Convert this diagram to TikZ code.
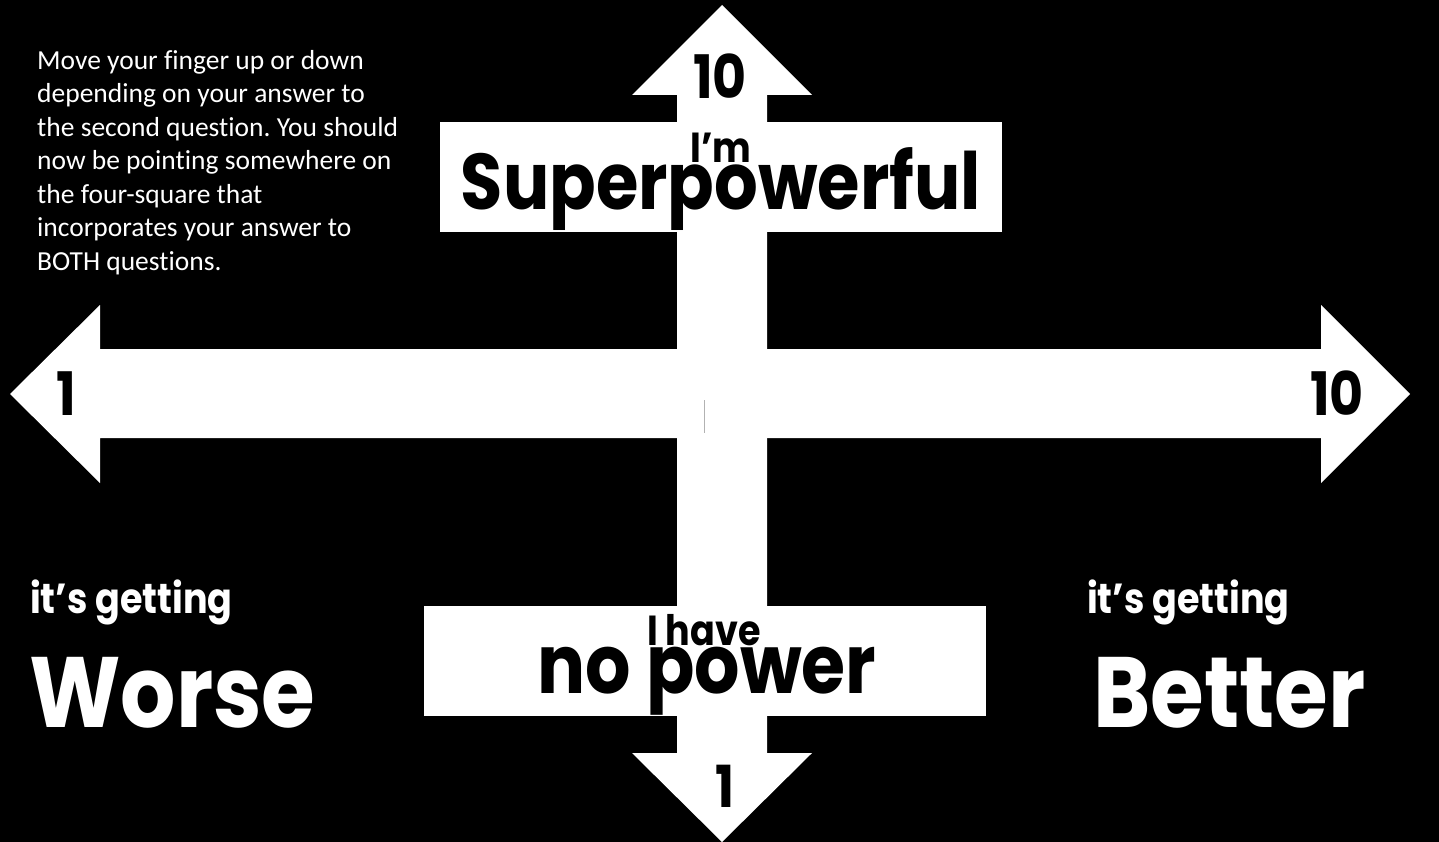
\documentclass[tikz,border=0pt]{standalone}
\usepackage{fontspec}
\setmainfont{Carlito}[Ligatures={NoCommon}]
\newfontfamily\gothic{Poppins}[FakeStretch=0.87]
\tikzset{
  shapewhite/.style={fill=white, draw=none},
  darklbl/.style={inner sep=0pt, anchor=base, text=black, font=\gothic\bfseries},
  lightlbl/.style={inner sep=0pt, anchor=base west, text=white, font=\gothic\bfseries},
}
\newcommand{\fsz}[1]{\fontsize{#1}{#1}\selectfont}
\frenchspacing
\begin{document}
\begin{tikzpicture}[x=1pt,y=-1pt]
\fill[black] (0,0) rectangle (1439,842);
\useasboundingbox (0,0) rectangle (1439,842);
% horizontal double arrow
\fill[shapewhite] (10,394) -- (100,305) -- (100,349) -- (1321,349) -- (1321,305)
  -- (1410,394) -- (1321,483) -- (1321,438) -- (100,438) -- (100,483) -- cycle;
% vertical double arrow
\fill[shapewhite] (722,5) -- (812,95) -- (767,95) -- (767,753) -- (812,753)
  -- (722,842) -- (632,753) -- (677,753) -- (677,95) -- (632,95) -- cycle;
% label boxes
\fill[shapewhite] (440,122) rectangle (1002,232);
\fill[shapewhite] (424,606) rectangle (986,716);
% small grey mark at the centre
\coordinate (ctop) at (704,400);
\coordinate (cbot) at (704,433);
\draw[gray!60, line width=1pt] (ctop) -- (cbot);
% arrow labels
\node[darklbl] (up10) at (720,99) {\fsz{60}10};
\node[darklbl] (down1) at (725,807) {\fsz{58}1};
\node[darklbl] (left1) at (66,415) {\fsz{60}1};
\node[darklbl] (right10) at (1337,415) {\fsz{60}10};
% box labels
\node[darklbl] (im) at (721,163) {\fsz{42}I’m};
\node[darklbl] (super) at (721,210) {\fsz{79}Superpowerful};
\node[darklbl] (ihave) at (704,645) {\fsz{42}I have};
\node[darklbl] (nopower) at (707,693) {\fsz{82}no power};
% side labels
\node[lightlbl] (getL) at (30,613) {\fsz{42}it’s getting};
\node[lightlbl] (worse) at (29,727) {\fsz{100}Worse};
\node[lightlbl] (getR) at (1087,613) {\fsz{42}it’s getting};
\node[lightlbl] (better) at (1093,727) {\fsz{100}Better};
% instructions
\node[anchor=north west, inner sep=0pt, align=left, text=white,
  font=\fontsize{27.5}{33.5}\selectfont] (instr) at (37,50)
  {Move your finger up or down\\
   depending on your answer to\\
   the second question. You should\\
   now be pointing somewhere on\\
   the four-square that\\
   incorporates your answer to\\
   BOTH questions.};
\end{tikzpicture}
\end{document}
